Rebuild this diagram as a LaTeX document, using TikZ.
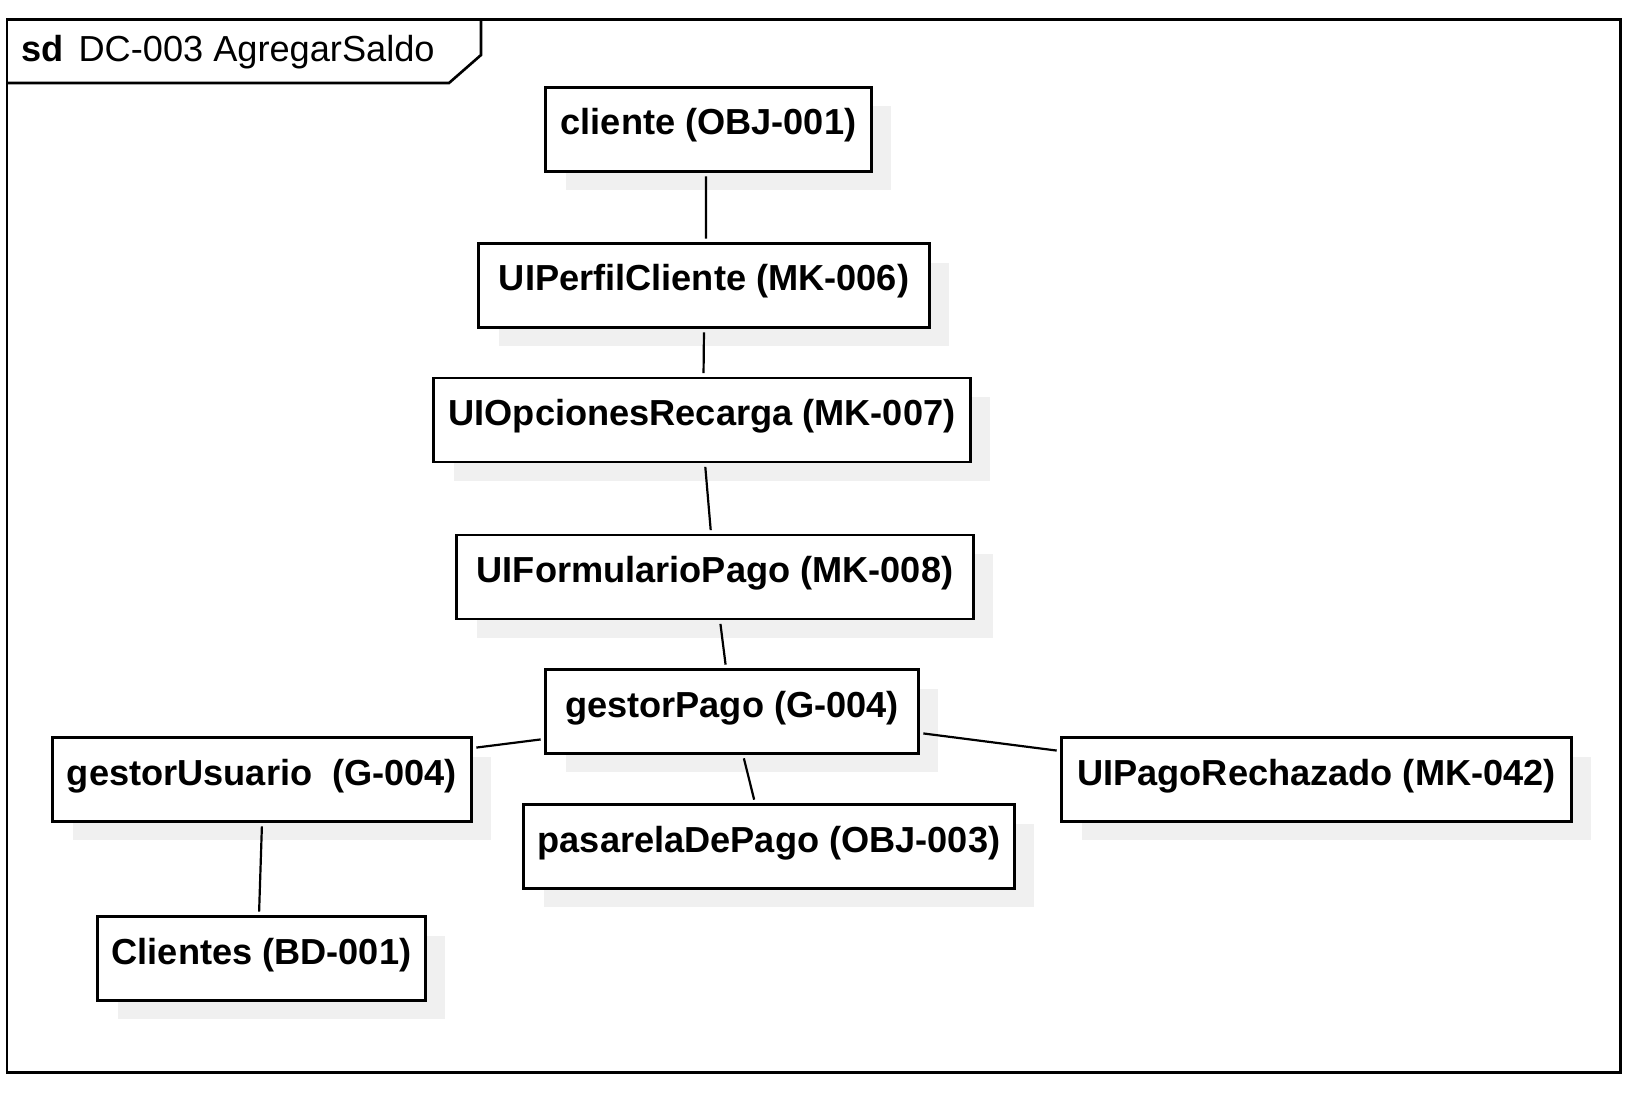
\documentclass[tikz,border=0pt]{standalone}
\usepackage{fontspec}
\setmainfont{Liberation Sans}
\usepackage{tikz}
\usetikzlibrary{shadows, positioning}

\begin{document}
\begin{tikzpicture}[
        x=0.02cm, y=-0.02cm,
        font=\fontsize{20.6pt}{24pt}\selectfont,
        obj/.style={
            rectangle,
            draw,
            line width=1.6pt,
            fill=white,
            inner xsep=0pt,
            inner ysep=0pt,
            text height=0.95cm,
            text depth=0.73cm,
            font=\fontsize{20.6pt}{24pt}\selectfont\bfseries,
            drop shadow={shadow xshift=0.4cm, shadow yshift=-0.38cm, fill=black!6, opacity=1}
        },
        link/.style={line width=1.25pt, shorten <=2pt, shorten >=2pt}
    ]
        \useasboundingbox (0,0) rectangle (1631,1094);

        % Frame
        \draw[line width=1.7pt] (7,20) rectangle (1620,1072);
        \draw[line width=1.5pt] (7,83) -- (449,83) -- (481,55) -- (481,20);
        \node[anchor=base west, inner sep=0pt] (title) at (21,62) {\textbf{sd}\hspace{0.3cm}DC-003 AgregarSaldo};

        % Objects
        \node[obj, minimum width=6.52cm] (cli) at (708.5,129.5) {cliente (OBJ-001)};
        \node[obj, minimum width=9.02cm] (per) at (704,285.5) {UIPerfilCliente (MK-006)};
        \node[obj, minimum width=10.74cm] (opc) at (702,420) {UIOpcionesRecarga (MK-007)};
        \node[obj, minimum width=10.34cm] (frm) at (715,577) {UIFormularioPago (MK-008)};
        \node[obj, minimum width=7.46cm] (gpa) at (732,711.5) {gestorPago (G-004)};
        \node[obj, minimum width=8.38cm] (gus) at (262,779.5) {gestorUsuario\ \ (G-004)};
        \node[obj, minimum width=9.82cm] (pas) at (769,846.5) {pasarelaDePago (OBJ-003)};
        \node[obj, minimum width=10.2cm] (rech) at (1316.5,779.5) {UIPagoRechazado (MK-042)};
        \node[obj, minimum width=6.56cm] (bd) at (261.5,958.5) {Clientes (BD-001)};

        % Links
        \draw[link] ([xshift=-0.05cm]cli.south) -- ([xshift=0.04cm]per.north);
        \draw[link] (per.south) -- ([xshift=0.03cm]opc.north);
        \draw[link] ([xshift=0.06cm]opc.south) -- ([xshift=-0.08cm]frm.north);
        \draw[link] ([xshift=0.1cm]frm.south) -- ([xshift=-0.12cm]gpa.north);
        \draw[link] ([yshift=-0.55cm]gpa.west) -- ([yshift=0.63cm]gus.east);
        \draw[link] ([xshift=0.22cm]gpa.south) -- ([xshift=-0.28cm]pas.north);
        \draw[link] ([yshift=-0.43cm]gpa.east) -- ([yshift=0.57cm]rech.west);
        \draw[link] (gus.south) -- ([xshift=-0.05cm]bd.north);

    \end{tikzpicture}
\end{document}
